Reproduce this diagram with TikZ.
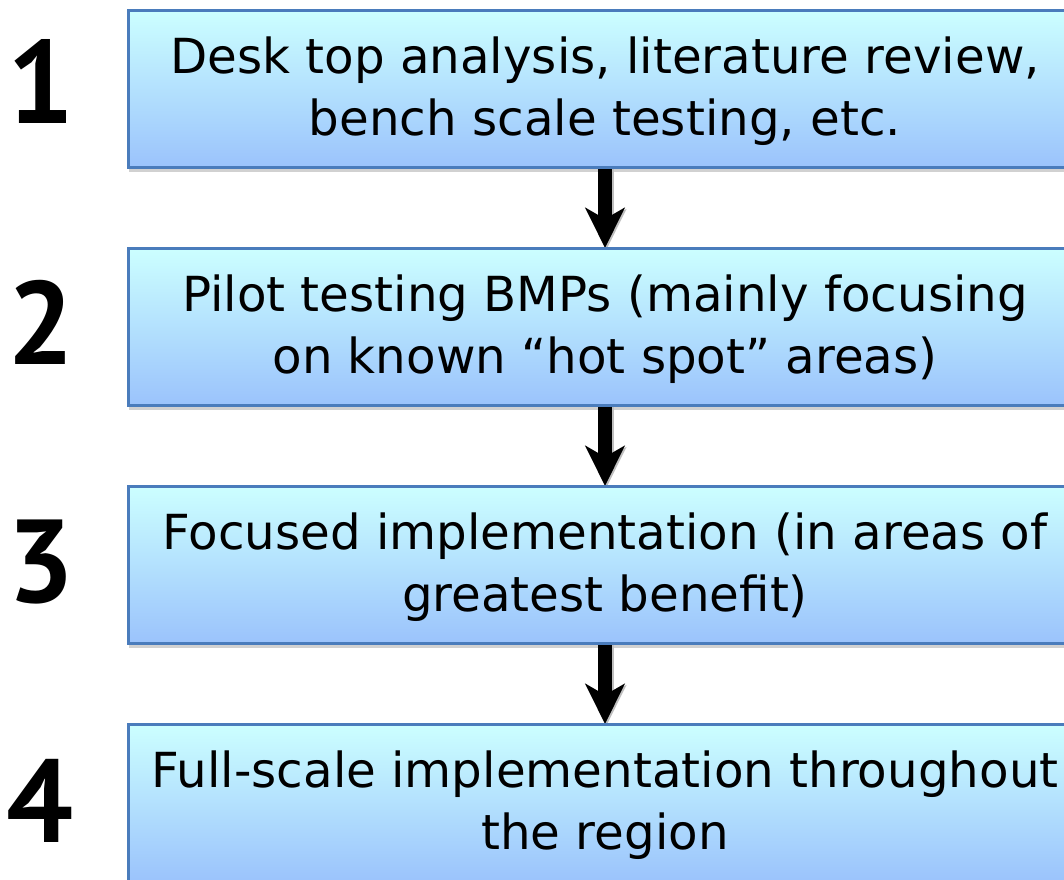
\documentclass[tikz,border=0pt]{standalone}
\usepackage{fontspec}
\setmainfont{DejaVu Sans}
\newfontfamily\numfont{PT Sans}
\usetikzlibrary{arrows.meta}
\definecolor{boxtop}{RGB}{204,255,255}
\definecolor{boxbottom}{RGB}{155,195,252}
\definecolor{boxedge}{RGB}{74,124,188}
\begin{document}
\begin{tikzpicture}[x=1pt,y=-1pt,
  stepbox/.style={draw=boxedge, line width=3pt, top color=boxtop,
    bottom color=boxbottom, minimum width=954pt, minimum height=157pt,
    inner sep=0pt},
  steptext/.style={inner sep=0pt, align=center,
    font=\fontsize{48.3}{62}\selectfont},
  shadowbox/.style={fill=black!18, minimum width=954pt, minimum height=157pt,
    inner sep=0pt},
  stepnum/.style={font=\numfont\bfseries\fontsize{118}{118}\selectfont,
    inner sep=0pt},
  flow/.style={line width=14pt,
    -{Stealth[length=40pt,width=39pt,inset=11pt]}},
  flowshadow/.style={flow, draw=black!25, fill=black!25}]
  % page
  \fill[white] (0,0) rectangle (1064,879);
  \useasboundingbox (0,0) rectangle (1064,879);

  % drop shadows under the boxes
  \foreach \i/\y in {1/88.5,2/326.5,3/564.5,4/802.5}
    \node[shadowbox] (s\i) at (606,\y+5) {};

  % coordinates for the connector ends
  \foreach \i/\y in {1/88.5,2/326.5,3/564.5,4/802.5}{
    \coordinate (bot\i) at (605,\y+78.5);
    \coordinate (top\i) at (605,\y-78.5);
  }

  % connector shadows
  \draw[flowshadow] ([xshift=1.5pt,yshift=-1.5pt]bot1) -- ([xshift=1.5pt,yshift=-1.5pt]top2);
  \draw[flowshadow] ([xshift=1.5pt,yshift=-1.5pt]bot2) -- ([xshift=1.5pt,yshift=-1.5pt]top3);
  \draw[flowshadow] ([xshift=1.5pt,yshift=-1.5pt]bot3) -- ([xshift=1.5pt,yshift=-1.5pt]top4);

  % connectors
  \draw[flow] (bot1) -- (top2);
  \draw[flow] (bot2) -- (top3);
  \draw[flow] (bot3) -- (top4);

  % step boxes
  \node[stepbox] (b1) at (605,88.5) {};
  \node[stepbox] (b2) at (605,326.5) {};
  \node[stepbox] (b3) at (605,564.5) {};
  \node[stepbox] (b4) at (605,802.5) {};

  % step texts
  \node[steptext] (t1) at ([yshift=-3pt]b1.center)
    {Desk top analysis, literature review,\\bench scale testing, etc.};
  \node[steptext] (t2) at ([yshift=-3pt]b2.center)
    {Pilot testing BMPs (mainly focusing\\on known “hot spot” areas)};
  \node[steptext] (t3) at ([yshift=-3pt]b3.center)
    {Focused implementation (in areas of\\greatest benefit)};
  \node[steptext] (t4) at ([yshift=-3pt]b4.center)
    {Full-scale implementation throughout\\the region};

  % step numbers
  \node[stepnum] (n1) at (41,81) {1};
  \node[stepnum] (n2) at (41,322) {2};
  \node[stepnum] (n3) at (41,562) {3};
  \node[stepnum] (n4) at (40,801) {4};
\end{tikzpicture}
\end{document}
